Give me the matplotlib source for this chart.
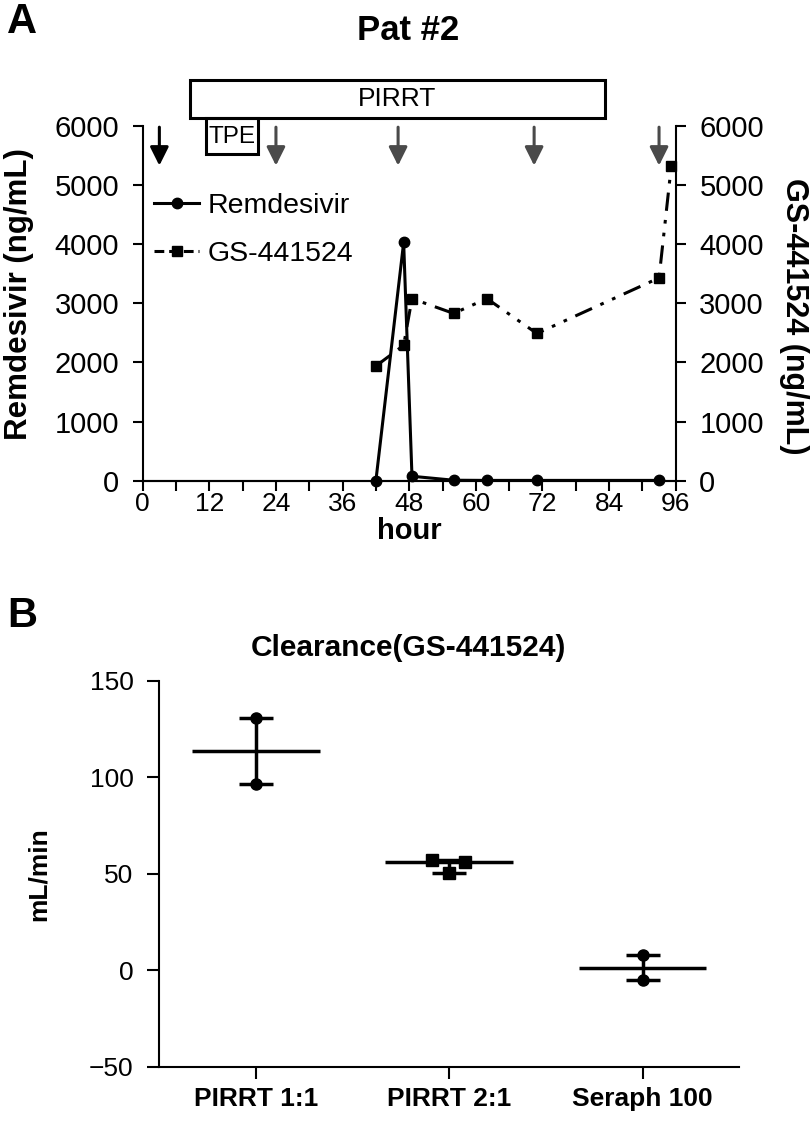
import matplotlib
matplotlib.use('Agg')
import matplotlib.pyplot as plt
import numpy as np
from matplotlib.patches import Rectangle
from matplotlib.lines import Line2D

# ---------------- data ----------------
hours_rdv = [42, 47, 48.5, 56, 62, 71, 93]
remdesivir = [0, 4030, 75, 8, 5, 5, 5]
hours_gs = [42, 47, 48.5, 56, 62, 71, 93, 95.2]
gs441524 = [1940, 2290, 3080, 2830, 3080, 2490, 3430, 5320]
dose_hours = [3, 24, 46, 70.5, 93]
dose_colors = ['black', '#4a4a4a', '#4a4a4a', '#4a4a4a', '#4a4a4a']
pirrt_period = (8.5, 83.3)
tpe_period = (11.4, 20.7)
x_ticks_a = list(range(0, 97, 12))
y_ticks_a = list(range(0, 6001, 1000))

groups = ['PIRRT 1:1', 'PIRRT 2:1', 'Seraph 100']
clearance = [[130.8, 96.7], [57.4, 56.0, 50.5], [7.8, -5.2]]
jitter = [[0, 0], [-0.09, 0.08, 0.0], [0, 0]]
group_markers = ['o', 's', 'o']
y_ticks_b = [-50, 0, 50, 100, 150]

# ---------------- style ----------------
FONT = ['Liberation Sans', 'DejaVu Sans']
TFONT = ['Liberation Sans Narrow', 'Liberation Sans', 'DejaVu Sans']
plt.rcParams['font.family'] = FONT
plt.rcParams['axes.linewidth'] = 1.5
TSA = 21
TSB = 19
LBL = 22.5

fig = plt.figure(figsize=(8.12, 11.26), dpi=100)

# ---------------- panel A ----------------
ax = fig.add_axes([142.7/812, 1-480.7/1126, 533/812, 354.7/1126])
ax2 = ax.twinx()
for a in (ax, ax2):
    a.set_xlim(0, 96)
    a.set_ylim(0, 6000)
    a.spines['top'].set_visible(False)
ax.spines['right'].set_visible(False)
ax2.spines['left'].set_visible(False)

ax.plot(hours_rdv, remdesivir, color='black', lw=2.2, marker='o', ms=7.5,
        clip_on=False, zorder=3)
ax2.plot(hours_gs, gs441524, color='black', lw=2.2, marker='s', ms=7.5,
         linestyle=(0, (6, 3, 1.2, 3, 1.2, 3)), clip_on=False, zorder=3)

ax.set_xticks(x_ticks_a)
ax.set_xticks(list(range(6, 96, 12)), minor=True)
ax.set_yticks(y_ticks_a)
ax2.set_yticks(y_ticks_a)
ax.tick_params(axis='x', which='both', direction='out', length=7, width=1.5,
               labelsize=19, pad=1)
for a in (ax, ax2):
    a.tick_params(axis='y', which='both', direction='out', length=7,
                  width=1.5, labelsize=TSA, pad=10)
ax.set_xlabel('hour', fontsize=TSA, fontweight='bold', va='center')
ax.xaxis.set_label_coords(0.5, -0.142)
ax.set_ylabel('Remdesivir (ng/mL)', fontsize=LBL, fontweight='bold',
              va='center')
ax.yaxis.set_label_coords(-0.233, 0.526)
ax2.set_ylabel('GS-441524 (ng/mL)', fontsize=22, fontweight='bold',
               rotation=270, va='center')
ax2.yaxis.set_label_coords(1.222, 0.465)

# dosing arrows
for h, c in zip(dose_hours, dose_colors):
    ax2.annotate('', xy=(h, 5330), xytext=(h, 5980),
                 arrowprops=dict(arrowstyle='-|>', color=c, lw=2.2,
                                 mutation_scale=28, shrinkA=0, shrinkB=0),
                 annotation_clip=False, zorder=4)

# treatment boxes
r1 = Rectangle((pirrt_period[0], 6134), pirrt_period[1]-pirrt_period[0], 646,
               fill=False, lw=2.2, ec='black', clip_on=False, zorder=4)
ax2.add_patch(r1)
ax2.text(np.mean(pirrt_period), 6134+323, 'PIRRT', ha='center', va='center',
         fontsize=19, clip_on=False)
r2 = Rectangle((tpe_period[0], 5518), tpe_period[1]-tpe_period[0], 616,
               fill=False, lw=2.2, ec='black', clip_on=False, zorder=4)
ax2.add_patch(r2)
ax2.text(np.mean(tpe_period), 5518+300, 'TPE', ha='center', va='center',
         fontsize=17.5, clip_on=False)

handles = [Line2D([], [], color='black', lw=2.2, marker='o', ms=7.5),
           Line2D([], [], color='black', lw=2.2, marker='s', ms=7.5,
                  linestyle=(0, (3.2, 1.6)))]
ax2.legend(handles, ['Remdesivir', 'GS-441524'], loc='upper left',
           bbox_to_anchor=(0.021, 0.81), frameon=False, fontsize=20.5,
           handlelength=1.6, handletextpad=0.3, labelspacing=0.75,
           borderaxespad=0, borderpad=0)

# ---------------- panel B ----------------
bx = fig.add_axes([159.3/812, 1-1067/1126, 3*193.3/812, 386.3/1126])
bx.set_xlim(-0.5, 2.5)
bx.set_ylim(-50, 150)
bx.spines['top'].set_visible(False)
bx.spines['right'].set_visible(False)
for i, vals in enumerate(clearance):
    v = np.array(vals)
    med = np.median(v)
    bx.hlines(med, i-0.33, i+0.33, color='black', lw=2.5, zorder=2)
    bx.errorbar([i], [med], yerr=[[med-v.min()], [v.max()-med]], fmt='none',
                ecolor='black', elinewidth=2.5, capsize=12.2, capthick=2.5,
                zorder=2)
    bx.plot(i+np.array(jitter[i]), v, linestyle='none',
            marker=group_markers[i], color='black', ms=8, zorder=3)
bx.set_xticks(range(len(groups)))
bx.set_xticklabels(groups, fontweight='bold')
bx.set_yticks(y_ticks_b)
bx.tick_params(axis='x', direction='out', length=8.5, width=1.5,
               labelsize=TSB, pad=6)
bx.tick_params(axis='y', direction='out', length=8.5, width=1.5,
               labelsize=TSB, pad=10)
bx.set_ylabel('mL/min', fontsize=TSB, fontweight='bold', va='center')
bx.yaxis.set_label_coords(-0.2075, 0.5)

# ---------------- titles ----------------
fig.text(0.009, 0.998, 'A', fontsize=30, fontweight='bold', va='top',
         family=TFONT)
fig.text(0.009, 1-596/1126, 'B', fontsize=30, fontweight='bold', va='top',
         family=TFONT)
fig.text(408/812, 1-30/1126, 'Pat #2', fontsize=25, fontweight='bold',
         ha='center', va='center', family=TFONT)
fig.text(408/812, 1-648/1126, 'Clearance(GS-441524)', fontsize=21.5,
         fontweight='bold', ha='center', va='center', family=TFONT)

fig.savefig('out.png', dpi=100)
